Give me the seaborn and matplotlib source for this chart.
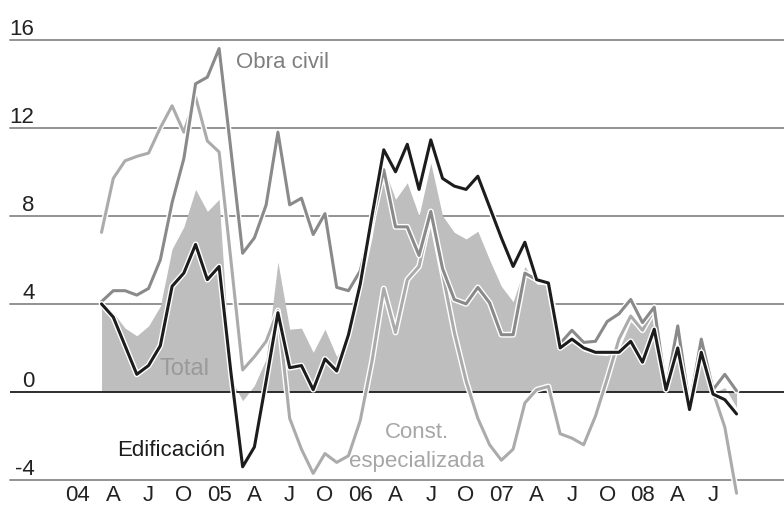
import matplotlib.pyplot as plt
import matplotlib.patheffects as pe
import seaborn as sns

# ----------------------------
# Data (monthly, index 0 = Jan 2004)
# ----------------------------
MONTHS = list(range(2, 57))
TICK_POS = list(range(0, 55, 3))
TICK_LABELS = ["04", "A", "J", "O", "05", "A", "J", "O", "06", "A", "J", "O",
               "07", "A", "J", "O", "08", "A", "J"]
GRID_VALUES = [-4, 4, 8, 12, 16]
Y_LABELS = [-4, 0, 4, 8, 12, 16]

total = [4.0, 3.6, 2.9, 2.55, 3.0, 3.9, 6.5, 7.5, 9.2, 8.2, 8.75, 0.6, -0.4, 0.3,
         1.5, 5.9, 2.85, 2.9, 1.8, 2.85, 1.6, 2.5, 4.5, 7.0, 10.2, 8.75, 9.5, 8.0,
         10.4, 8.0, 7.25, 6.95, 7.3, 6.0, 4.8, 4.1, 5.7, 4.9, 4.85, 1.95, 2.25, 1.85,
         1.7, 1.65, 1.95, 3.2, 2.7, 3.5, 0.0, 2.6, -0.35, 2.15, -0.05, 0.2, -0.7]

edificacion = [4.0, 3.4, 2.1, 0.8, 1.2, 2.1, 4.8, 5.4, 6.7, 5.1, 5.7, 0.9, -3.4, -2.5,
               0.5, 3.6, 1.1, 1.2, 0.1, 1.5, 0.95, 2.6, 4.9, 8.0, 11.0, 10.0, 11.25, 9.2,
               11.45, 9.7, 9.35, 9.2, 9.8, 8.4, 7.0, 5.7, 6.8, 5.1, 4.95, 2.0, 2.4, 2.0,
               1.8, 1.8, 1.8, 2.3, 1.35, 2.85, 0.1, 2.0, -0.8, 1.8, -0.1, -0.35, -1.0]

obra_civil = [4.1, 4.6, 4.6, 4.4, 4.7, 6.0, 8.6, 10.6, 14.0, 14.3, 15.6, 11.0, 6.3, 7.0,
              8.5, 11.8, 8.5, 8.8, 7.15, 8.1, 4.75, 4.6, 5.5, 7.7, 10.1, 7.5, 7.5, 6.2,
              8.2, 5.6, 4.2, 4.0, 4.75, 4.05, 2.6, 2.6, 5.4, 5.1, 4.95, 2.2, 2.8, 2.25,
              2.3, 3.2, 3.55, 4.2, 3.15, 3.85, 0.1, 3.0, -0.65, 2.4, 0.1, 0.8, 0.05]

const_esp = [7.25, 9.7, 10.5, 10.7, 10.85, 12.0, 13.0, 11.8, 13.4, 11.4, 10.9, 6.0, 1.0, 1.6,
             2.3, 3.7, -1.2, -2.6, -3.7, -2.8, -3.2, -2.9, -1.3, 1.4, 4.7, 2.7, 5.1, 5.7,
             8.1, 5.4, 2.7, 0.5, -1.2, -2.4, -3.1, -2.6, -0.5, 0.1, 0.25, -1.9, -2.1, -2.4,
             -1.1, 0.6, 2.4, 3.45, 2.8, 3.75, 0.2, 2.7, -0.3, 2.2, 0.0, -1.6, -4.6]

# ----------------------------
# Style
# ----------------------------
sns.set_theme(style="white")
plt.rcParams['font.family'] = ['Liberation Sans', 'DejaVu Sans']
FS = 16

fig = plt.figure(figsize=(7.84, 5.06), dpi=100)
ax = fig.add_axes([10 / 784, 25 / 506, 774 / 784, 481 / 506])
ax.set_xlim((10 - 78) / 11.76, (784 - 78) / 11.76)
ax.set_ylim(-4, 392.7 / 22)

for v in GRID_VALUES:
    ax.axhline(v, color="#8a8a8a", lw=1.3, zorder=1, clip_on=False)
ax.axhline(0, color="#1e1e1e", lw=1.3, zorder=3)

ax.fill_between(MONTHS, total, 0, color="#bebebe", lw=0, zorder=2)

halo = [pe.withStroke(linewidth=4.2, foreground="white")]
sns.lineplot(x=MONTHS, y=const_esp, color="#ababab", lw=2.2, ax=ax, zorder=4,
             path_effects=halo, clip_on=False)
sns.lineplot(x=MONTHS, y=obra_civil, color="#8a8a8a", lw=2.2, ax=ax, zorder=5,
             path_effects=halo)
sns.lineplot(x=MONTHS, y=edificacion, color="#1c1c1c", lw=2.2, ax=ax, zorder=6,
             path_effects=halo)

# y labels sit just above the gridlines
for v in Y_LABELS:
    ax.text(-3.7, v + 0.05, str(v), ha="right", va="bottom", fontsize=FS,
            color="#222222")

ax.set_xticks(TICK_POS)
ax.set_xticklabels(TICK_LABELS, fontsize=FS, color="#222222")
ax.tick_params(axis="x", length=0, pad=3)
ax.set_yticks([])
ax.set_xlabel("")
ax.set_ylabel("")
for s in ax.spines.values():
    s.set_visible(False)

# series labels
ax.text(13.45, 15.0, "Obra civil", ha="left", va="center", fontsize=FS, color="#7f7f7f")
ax.text(6.97, 1.1, "Total", ha="left", va="center", fontsize=FS + 1, color="#9a9a9a")
ax.text(3.29, -2.62, "Edificación", ha="left", va="center", fontsize=FS, color="#1c1c1c")
ax.text(28.8, -1.79, "Const.", ha="center", va="center", fontsize=FS, color="#a6a6a6")
ax.text(28.8, -3.1, "especializada", ha="center", va="center", fontsize=FS, color="#a6a6a6")

fig.savefig("out.png", dpi=100)
